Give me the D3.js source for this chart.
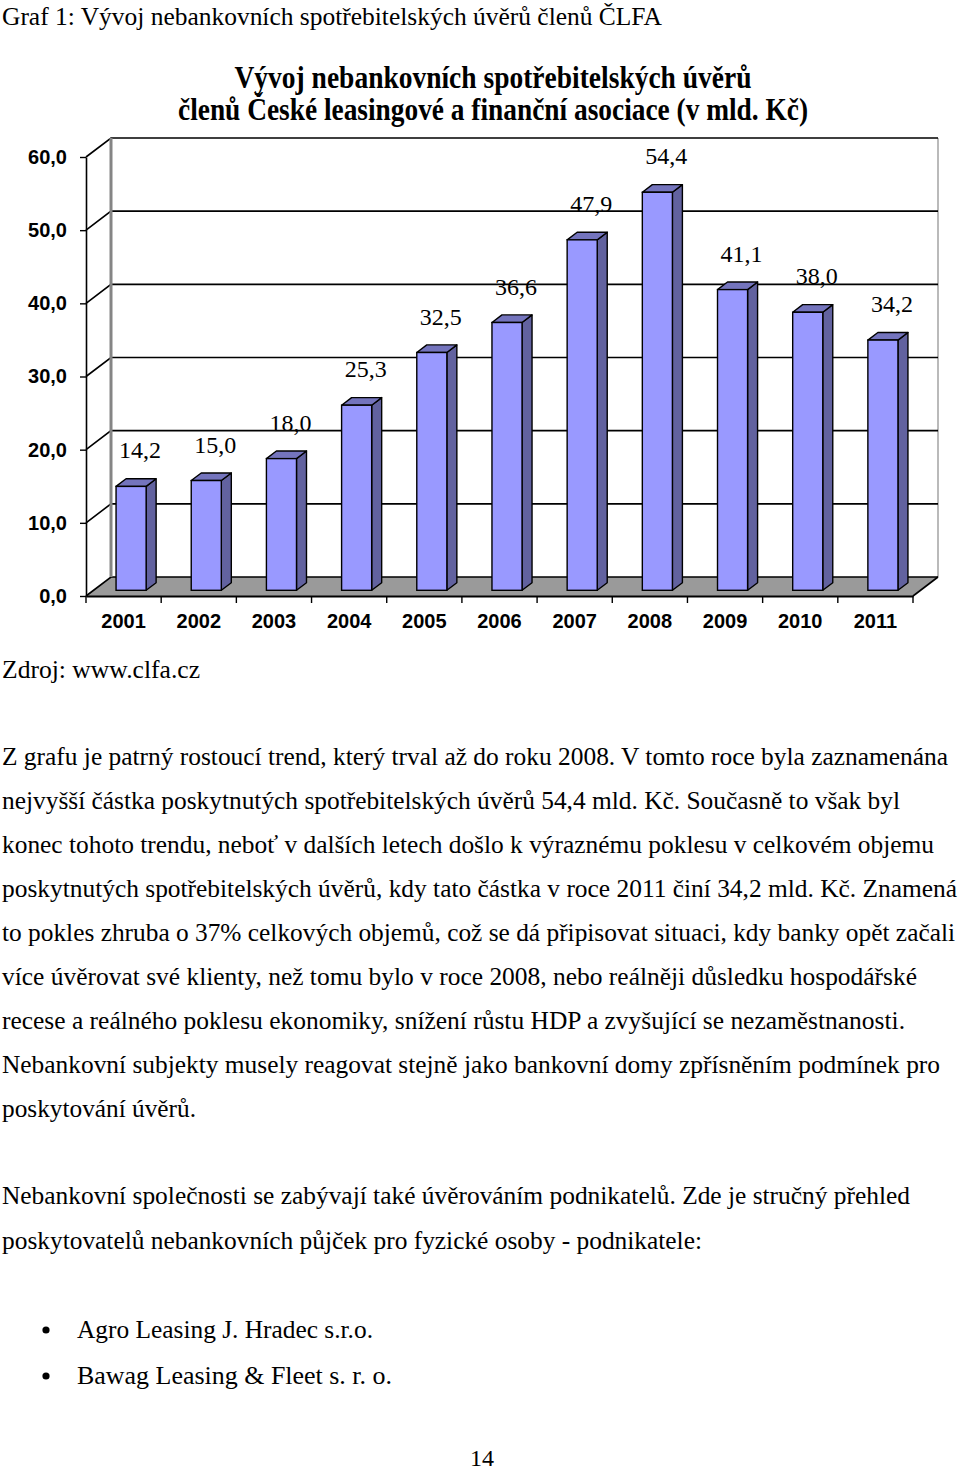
<!DOCTYPE html>
<html>
<head>
<meta charset="utf-8">
<script src="https://cdn.jsdelivr.net/npm/d3@7"></script>
<style>
  body { margin: 0; background: #fff; }
  svg { display: block; }
</style>
</head>
<body>
<div id="page"></div>
<script>
// chart data
var years = ['2001','2002','2003','2004','2005','2006','2007','2008','2009','2010','2011'];
var values = [14.2, 15.0, 18.0, 25.3, 32.5, 36.6, 47.9, 54.4, 41.1, 38.0, 34.2];
var yTicks = [0, 10, 20, 30, 40, 50, 60];

var chartTitle = ['Vývoj nebankovních spotřebitelských úvěrů',
                  'členů České leasingové a finanční asociace (v mld. Kč)'];

// page text
var caption = 'Graf 1: Vývoj nebankovních spotřebitelských úvěrů členů ČLFA';
var source = 'Zdroj: www.clfa.cz';
var para1 = [
  'Z grafu je patrný rostoucí trend, který trval až do roku 2008. V tomto roce byla zaznamenána',
  'nejvyšší částka poskytnutých spotřebitelských úvěrů 54,4 mld. Kč. Současně to však byl',
  'konec tohoto trendu, neboť v dalších letech došlo k výraznému poklesu v celkovém objemu',
  'poskytnutých spotřebitelských úvěrů, kdy tato částka v roce 2011 činí 34,2 mld. Kč. Znamená',
  'to pokles zhruba o 37% celkových objemů, což se dá připisovat situaci, kdy banky opět začali',
  'více úvěrovat své klienty, než tomu bylo v roce 2008, nebo reálněji důsledku hospodářské',
  'recese a reálného poklesu ekonomiky, snížení růstu HDP a zvyšující se nezaměstnanosti.',
  'Nebankovní subjekty musely reagovat stejně jako bankovní domy zpřísněním podmínek pro',
  'poskytování úvěrů.'
];
var para2 = [
  'Nebankovní společnosti se zabývají také úvěrováním podnikatelů. Zde je stručný přehled',
  'poskytovatelů nebankovních půjček pro fyzické osoby - podnikatele:'
];
var bullets = ['Agro Leasing J. Hradec s.r.o.', 'Bawag Leasing  & Fleet s. r. o.'];
var pageNo = '14';

// measured line widths in the page
var para1Widths = [946, 898, 932, 955, 953, 915, 903, 938, 194];
var para2Widths = [908, 700];
var bulletWidths = [296, 315];

var W = 960, H = 1473;
var svg = d3.select('#page').append('svg')
    .attr('width', W)
    .attr('height', H)
    .style('background', '#fff');

var serif = '"Liberation Serif", "Times New Roman", serif';
var sans = '"Liberation Sans", Arial, sans-serif';

function textLine(str, x, y, len, opts)
{
    opts = opts || {};
    var t = svg.append('text')
        .attr('x', x)
        .attr('y', y)
        .style('font-family', opts.family || serif)
        .style('font-size', (opts.size || 25) + 'px')
        .style('font-weight', opts.weight || 'normal')
        .attr('fill', '#000')
        .text(str);
    if (opts.anchor) t.attr('text-anchor', opts.anchor);
    if (len) t.attr('textLength', len).attr('lengthAdjust', 'spacingAndGlyphs');
    return t;
}

//caption above the chart
textLine(caption, 2, 25, 660);

//chart title
textLine(chartTitle[0], 493, 88, 517, {weight: 'bold', size: 31, anchor: 'middle'});
textLine(chartTitle[1], 493, 120, 630, {weight: 'bold', size: 31, anchor: 'middle'});

// ---- 3D column chart ----
var x0 = 86, x1 = 913, yTop = 157, yBase = 596;
var dx = 25, dy = -19;          //depth of the floor / walls
var fFront = 0.3, fBack = 0.7;  //bar depth inside the floor

var x = d3.scaleBand().domain(years).range([x0, x1]).paddingInner(0.6).paddingOuter(0.3);
var y = d3.scaleLinear().domain([0, 60]).range([yBase, yTop]);

var chart = svg.append('g');

//floor
chart.append('path')
    .attr('d', 'M' + x0 + ',' + yBase + 'L' + x1 + ',' + yBase + 'L' + (x1 + dx) + ',' + (yBase + dy) + 'L' + (x0 + dx) + ',' + (yBase + dy) + 'Z')
    .attr('fill', '#9a9a9a')
    .attr('stroke', 'none');

//back wall right edge
chart.append('line')
    .attr('x1', x1 + dx).attr('x2', x1 + dx)
    .attr('y1', y(60) + dy).attr('y2', yBase + dy)
    .attr('stroke', '#8c8c8c').attr('stroke-width', 1.2);

//gridlines on side + back wall
chart.selectAll('.grid')
    .data(yTicks)
    .enter()
    .append('path')
    .attr('class', 'grid')
    .attr('d', function(d) {
        return 'M' + x0 + ',' + y(d) + 'L' + (x0 + dx) + ',' + (y(d) + dy) + 'L' + (x1 + dx) + ',' + (y(d) + dy);
    })
    .attr('fill', 'none')
    .attr('stroke', '#000')
    .attr('stroke-width', 1.6);

//back wall left edge (gray)
chart.append('line')
    .attr('x1', x0 + dx).attr('x2', x0 + dx)
    .attr('y1', y(60) + dy).attr('y2', yBase + dy)
    .attr('stroke', '#858585').attr('stroke-width', 3);

//floor right edge
chart.append('line')
    .attr('x1', x1).attr('y1', yBase)
    .attr('x2', x1 + dx).attr('y2', yBase + dy)
    .attr('stroke', '#000').attr('stroke-width', 1.6);

//y axis
var yAxis = chart.append('g')
    .attr('transform', 'translate(' + x0 + ',0)')
    .call(d3.axisLeft(y)
        .tickValues(yTicks)
        .tickSize(6)
        .tickSizeOuter(0)
        .tickPadding(13)
        .tickFormat(function(d) { return d3.format('.1f')(d).replace('.', ','); }));
yAxis.select('.domain').attr('stroke', '#000').attr('stroke-width', 1.6);
yAxis.selectAll('.tick line').attr('stroke', '#000').attr('stroke-width', 1.4);
yAxis.selectAll('.tick text')
    .style('font-family', sans)
    .style('font-size', '20px')
    .style('font-weight', 'bold')
    .attr('fill', '#000');

//x axis
var xAxis = chart.append('g')
    .attr('transform', 'translate(0,' + yBase + ')')
    .call(d3.axisBottom(x).tickSize(0).tickPadding(18));
xAxis.select('.domain').attr('stroke', '#000').attr('stroke-width', 2);
xAxis.selectAll('.tick text')
    .style('font-family', sans)
    .style('font-size', '20px')
    .style('font-weight', 'bold')
    .attr('fill', '#000');

//tick marks between categories
chart.selectAll('.xtick')
    .data(d3.range(years.length + 1))
    .enter()
    .append('line')
    .attr('class', 'xtick')
    .attr('x1', function(i) { return x0 + i * x.step(); })
    .attr('x2', function(i) { return x0 + i * x.step(); })
    .attr('y1', yBase)
    .attr('y2', yBase + 7)
    .attr('stroke', '#000')
    .attr('stroke-width', 1.4);

//bars
var bw = x.bandwidth();
var fx = dx * fFront, fy = dy * fFront;   //front face offset
var bx = dx * fBack, by = dy * fBack;     //back face offset

var bars = chart.selectAll('.bar')
    .data(years.map(function(yr, i) { return {year: yr, value: values[i]}; }))
    .enter()
    .append('g')
    .attr('class', 'bar');

//side
bars.append('path')
    .attr('d', function(d) {
        var l = x(d.year) + bw, t = y(d.value), b = yBase;
        return 'M' + (l + fx) + ',' + (t + fy) + 'L' + (l + bx) + ',' + (t + by) +
               'L' + (l + bx) + ',' + (b + by) + 'L' + (l + fx) + ',' + (b + fy) + 'Z';
    })
    .attr('fill', '#62629f')
    .attr('stroke', '#000')
    .attr('stroke-width', 1.4)
    .attr('stroke-linejoin', 'round');

//top
bars.append('path')
    .attr('d', function(d) {
        var l = x(d.year), r = l + bw, t = y(d.value);
        return 'M' + (l + fx) + ',' + (t + fy) + 'L' + (r + fx) + ',' + (t + fy) +
               'L' + (r + bx) + ',' + (t + by) + 'L' + (l + bx) + ',' + (t + by) + 'Z';
    })
    .attr('fill', '#7474bd')
    .attr('stroke', '#000')
    .attr('stroke-width', 1.4)
    .attr('stroke-linejoin', 'round');

//front
bars.append('rect')
    .attr('x', function(d) { return x(d.year) + fx; })
    .attr('y', function(d) { return y(d.value) + fy; })
    .attr('width', bw)
    .attr('height', function(d) { return yBase - y(d.value); })
    .attr('fill', '#9999ff')
    .attr('stroke', '#000')
    .attr('stroke-width', 1.4);

//value labels
chart.selectAll('.val')
    .data(years.map(function(yr, i) { return {year: yr, value: values[i]}; }))
    .enter()
    .append('text')
    .attr('class', 'val')
    .attr('x', function(d) { return x(d.year) + fx + bw / 2 + 9; })
    .attr('y', function(d) { return y(d.value) + fy - 28; })
    .attr('text-anchor', 'middle')
    .style('font-family', serif)
    .style('font-size', '24px')
    .attr('fill', '#000')
    .text(function(d) { return d3.format('.1f')(d.value).replace('.', ','); });

// ---- text below the chart ----
textLine(source, 2, 678, 198);

var lh = 44;
para1.forEach(function(line, i) {
    textLine(line, 2, 765 + i * lh, para1Widths[i]);
});
para2.forEach(function(line, i) {
    textLine(line, 2, 1204 + i * 45, para2Widths[i]);
});
bullets.forEach(function(line, i) {
    var by0 = 1338 + i * 46;
    svg.append('circle')
        .attr('cx', 46)
        .attr('cy', by0 - 8)
        .attr('r', 3.6)
        .attr('fill', '#000');
    textLine(line, 77, by0, bulletWidths[i]);
});

textLine(pageNo, 482, 1466, null, {anchor: 'middle', size: 24});
</script>
</body>
</html>
